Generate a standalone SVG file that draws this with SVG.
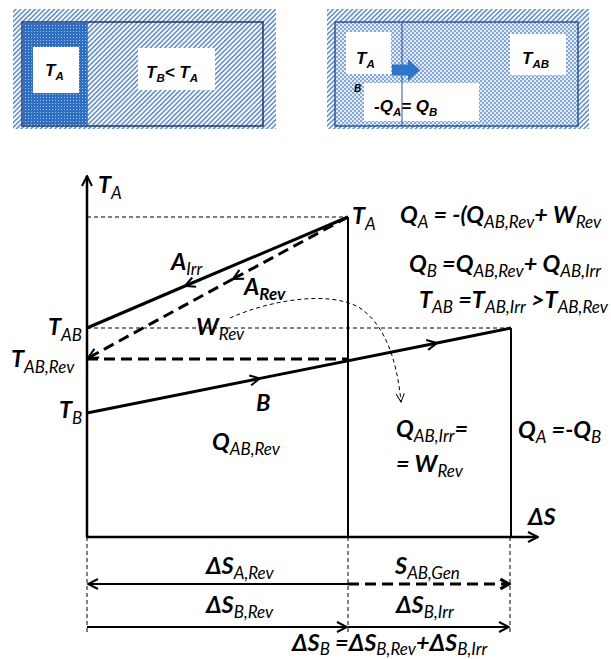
<svg xmlns="http://www.w3.org/2000/svg" width="611" height="659" viewBox="0 0 611 659">
<style>
.m{font-family:Lato,"Open Sans",sans-serif;font-weight:bold;font-style:italic;font-size:23.5px;fill:#000}
.s{font-weight:normal;font-size:17px}
.sb{font-size:17px}
.t{font-family:"Liberation Sans",Arial,sans-serif;font-weight:bold;font-style:italic;font-size:17px;fill:#000}
.ts{font-size:11.5px}
.ln{fill:none;stroke:#000}
.thin{fill:none;stroke:#000;stroke-width:1;stroke-dasharray:4 3}
.dash{fill:none;stroke:#000;stroke-width:3;stroke-dasharray:11 6}
</style>
<defs>
<pattern id="hatch" width="3.4" height="3.4" patternUnits="userSpaceOnUse" patternTransform="rotate(45)"><rect width="3.4" height="3.4" fill="#fff"/><rect width="1.5" height="3.4" fill="#5a88c6"/></pattern>
<pattern id="dots" width="3" height="3" patternUnits="userSpaceOnUse"><rect width="3" height="3" fill="#2f6fc2"/><circle cx="1.5" cy="1.5" r="0.55" fill="#b8cff0"/></pattern>
<pattern id="check" width="4" height="4" patternUnits="userSpaceOnUse"><rect width="4" height="4" fill="#e2ebf7"/><rect width="2" height="2" fill="#86a8d6"/><rect x="2" y="2" width="2" height="2" fill="#86a8d6"/></pattern>
<marker id="ah" viewBox="0 0 12 12" refX="11" refY="6" markerWidth="12" markerHeight="12" orient="auto" markerUnits="userSpaceOnUse"><path d="M1,1 L11,6 L1,11" fill="none" stroke="#000" stroke-width="2"/></marker>
<marker id="ahb" viewBox="0 0 12 12" refX="10" refY="6" markerWidth="13" markerHeight="13" orient="auto" markerUnits="userSpaceOnUse"><path d="M2,1.5 L10,6 L2,10.5" fill="none" stroke="#000" stroke-width="3"/></marker>
<marker id="aht" viewBox="0 0 12 12" refX="11" refY="6" markerWidth="10" markerHeight="10" orient="auto" markerUnits="userSpaceOnUse"><path d="M1,1 L11,6 L1,11" fill="none" stroke="#000" stroke-width="1.2"/></marker>
</defs>

<g id="box1">
<rect x="13" y="9" width="263" height="120" fill="url(#hatch)"/>
<rect x="22" y="22" width="241" height="104" fill="url(#hatch)" stroke="#1f3864" stroke-width="1.5"/>
<rect x="22.75" y="22.75" width="65" height="102.5" fill="url(#dots)"/>
<rect x="33" y="47" width="46" height="46" fill="#fff"/>
<rect x="138" y="48" width="77" height="42" fill="#fff"/>
<text class="t" x="45" y="76">T<tspan class="ts" dy="4">A</tspan></text>
<text class="t" x="146" y="78">T<tspan class="ts" dy="4">B</tspan><tspan dy="-4">&lt; T</tspan><tspan class="ts" dy="4">A</tspan></text>
</g>

<g id="box2">
<rect x="327" y="9" width="262" height="120" fill="url(#hatch)"/>
<rect x="335" y="22" width="243" height="104" fill="url(#check)" stroke="#2f5597" stroke-width="1.5"/>
<rect x="346" y="32" width="45" height="42" fill="#fff"/>
<rect x="364" y="83" width="115" height="38" fill="#fff"/>
<rect x="510" y="34" width="56" height="41" fill="#fff"/>
<line x1="402" y1="22" x2="402" y2="126" stroke="#2f5597" stroke-width="1"/>
<path d="M392,64.5 H408 V59 L420,70 L408,81 V75.5 H392 Z" fill="#2e75c8"/>
<text class="t" x="356" y="64">T<tspan class="ts" dy="4">A</tspan></text>
<text class="t" x="522" y="64">T<tspan class="ts" dy="4">AB</tspan></text>
<text class="t" x="354" y="92" style="font-size:10px">B</text>
<text class="t" x="374" y="112">-Q<tspan class="ts" dy="4">A</tspan><tspan dy="-4">= Q</tspan><tspan class="ts" dy="4">B</tspan></text>
</g>

<g id="connectors">
<path class="ln" d="M87,537 V176" stroke-width="2.5" marker-end="url(#ah)"/>
<path class="ln" d="M86,537 H538" stroke-width="2.5" marker-end="url(#ah)"/>
<path class="ln" d="M348,217 V537" stroke-width="2"/>
<path class="ln" d="M511,328 V537" stroke-width="2"/>
<path class="thin" d="M87,217 H348"/>
<path class="thin" d="M87,328 H511"/>
<path class="ln" d="M348,217 L185,286" stroke-width="3" marker-end="url(#ah)"/>
<path class="ln" d="M185,286 L87,328" stroke-width="3"/>
<path class="dash" d="M348,217 L233,279" marker-end="url(#ah)"/>
<path class="dash" d="M233,279 L88,358" marker-end="url(#ah)"/>
<path class="dash" d="M87,359 H348"/>
<path class="ln" d="M87,413 L260,378.4" stroke-width="3" marker-end="url(#ah)"/>
<path class="ln" d="M260,378.4 L437,343" stroke-width="3" marker-end="url(#ah)"/>
<path class="ln" d="M437,343 L511,328" stroke-width="3"/>
<path class="thin" d="M230,318 C270,300 330,290 360,308 C385,325 397,360 401,402" marker-end="url(#aht)"/>
<path class="thin" d="M87,537 V634 M348,537 V634 M510,537 V634" stroke-width="0.8"/>
<path class="ln" d="M348,584 H88" stroke-width="2" marker-end="url(#ah)"/>
<path class="dash" d="M348,584 H509" marker-end="url(#ahb)"/>
<path class="ln" d="M87,627 H347" stroke-width="2" marker-end="url(#ah)"/>
<path class="ln" d="M348,627 H509" stroke-width="2" marker-end="url(#ah)"/>
</g>

<g id="labels">
<text class="m" x="98" y="193">T<tspan class="s" dy="6">A</tspan></text>
<text class="m" x="352" y="224">T<tspan class="s" dy="6">A</tspan></text>
<text class="m" x="400" y="223">Q<tspan class="s" dy="5">A</tspan><tspan dy="-5"> = -(Q</tspan><tspan class="s" dy="5">AB,Rev</tspan><tspan dy="-5">+ W</tspan><tspan class="s" dy="5">Rev</tspan></text>
<text class="m" x="409" y="272">Q<tspan class="s" dy="5">B</tspan><tspan dy="-5"> =Q</tspan><tspan class="s" dy="5">AB,Rev</tspan><tspan dy="-5">+ Q</tspan><tspan class="s" dy="5">AB,Irr</tspan></text>
<text class="m" x="419" y="308">T<tspan class="s" dy="5">AB</tspan><tspan dy="-5"> =T</tspan><tspan class="s" dy="5">AB,Irr</tspan><tspan dy="-5"> &gt;T</tspan><tspan class="s" dy="5">AB,Rev</tspan></text>
<text class="m" x="171" y="270">A<tspan class="s" dy="5">Irr</tspan></text>
<text class="m" x="244" y="295">A<tspan class="sb" dy="5">Rev</tspan></text>
<text class="m" x="196" y="335">W<tspan class="s" dy="5">Rev</tspan></text>
<text class="m" x="48" y="335">T<tspan class="s" dy="6">AB</tspan></text>
<text class="m" x="11" y="367">T<tspan class="s" dy="6">AB,Rev</tspan></text>
<text class="m" x="59" y="418">T<tspan class="s" dy="6">B</tspan></text>
<text class="m" x="256" y="411">B</text>
<text class="m" x="212" y="450">Q<tspan class="s" dy="5">AB,Rev</tspan></text>
<text class="m" x="396" y="437">Q<tspan class="s" dy="5">AB,Irr</tspan><tspan dy="-5">=</tspan></text>
<text class="m" x="396" y="472">= W<tspan class="s" dy="5">Rev</tspan></text>
<text class="m" x="518" y="438">Q<tspan class="s" dy="5">A</tspan><tspan dy="-5"> =-Q</tspan><tspan class="s" dy="5">B</tspan></text>
<text class="m" x="528" y="525">ΔS</text>
<text class="m" x="206" y="574">ΔS<tspan class="s" dy="5">A,Rev</tspan></text>
<text class="m" x="395" y="574">S<tspan class="s" dy="5">AB,Gen</tspan></text>
<text class="m" x="206" y="613">ΔS<tspan class="s" dy="5">B,Rev</tspan></text>
<text class="m" x="396" y="613">ΔS<tspan class="s" dy="5">B,Irr</tspan></text>
<text class="m" x="292" y="651">ΔS<tspan class="s" dy="4">B</tspan><tspan dy="-4"> =ΔS</tspan><tspan class="s" dy="4">B,Rev</tspan><tspan dy="-4">+ΔS</tspan><tspan class="s" dy="4">B,Irr</tspan></text>
</g>
</svg>
